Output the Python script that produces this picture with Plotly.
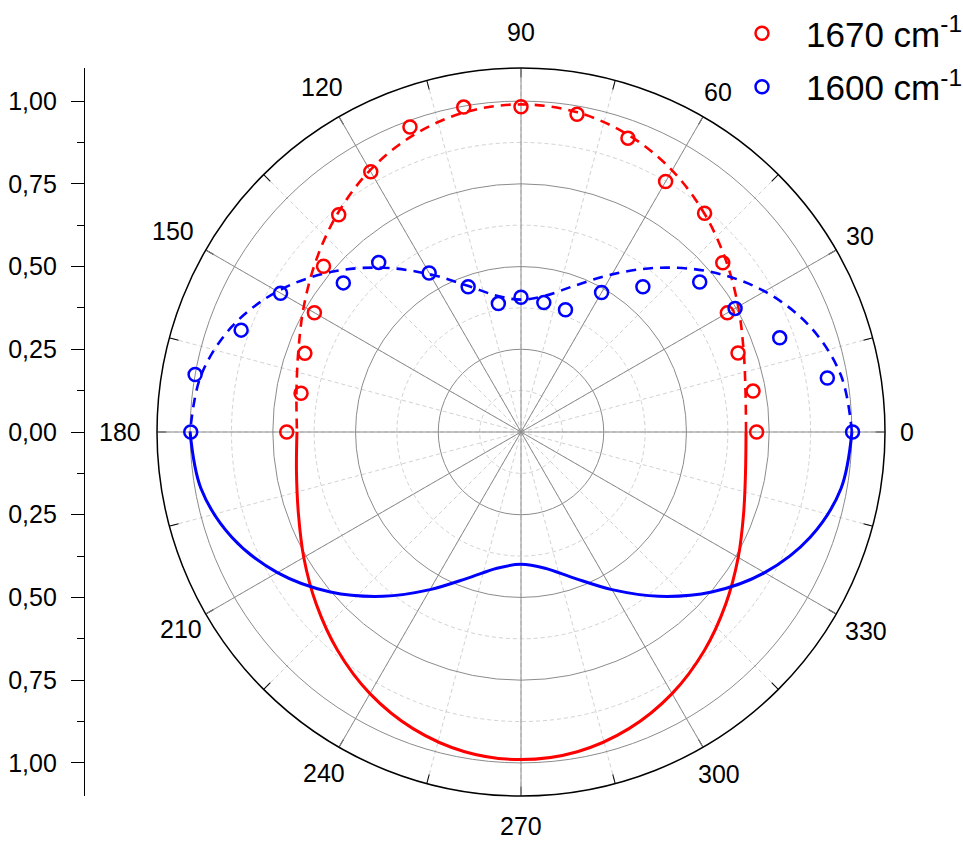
import math
import plotly.graph_objects as go

# ---------------- data ----------------
point_angles = [0, 10, 20, 30, 40, 50, 60, 70, 80, 90, 100, 110, 120, 130, 140, 150, 160, 170, 180]
red_points = [0.712, 0.712, 0.698, 0.720, 0.796, 0.863, 0.874, 0.945, 0.975, 0.983,
              0.997, 0.981, 0.908, 0.857, 0.779, 0.721, 0.695, 0.675, 0.708]
blue_points = [1.002, 0.940, 0.832, 0.747, 0.705, 0.573, 0.487, 0.393, 0.397, 0.407,
               0.394, 0.467, 0.555, 0.669, 0.701, 0.839, 0.900, 1.000, 0.998]

fit_angles = [0, 10, 20, 30, 40, 50, 60, 70, 80, 90, 100, 110, 120, 130, 140, 150, 160, 170, 180]
red_fit = [0.680, 0.689, 0.716, 0.758, 0.808, 0.862, 0.913, 0.954, 0.981, 0.990,
           0.981, 0.954, 0.913, 0.862, 0.808, 0.758, 0.716, 0.689, 0.677]
blue_fit = [1.000, 0.982, 0.930, 0.850, 0.752, 0.648, 0.550, 0.470, 0.418, 0.400,
            0.418, 0.470, 0.550, 0.648, 0.752, 0.850, 0.930, 0.982, 1.000]

series_names = ["1670 cm<sup>-1</sup>", "1600 cm<sup>-1</sup>"]
angle_labels = [0, 30, 60, 90, 120, 150, 180, 210, 240, 270, 300, 330]
minor_angles = list(range(0, 360, 15))
major_radii = [0.25, 0.5, 0.75, 1.0]
minor_radii = [0.125, 0.375, 0.625, 0.875]
left_ticks = [-1.0, -0.75, -0.5, -0.25, 0.0, 0.25, 0.5, 0.75, 1.0]
left_ticktext = ["1,00", "0,75", "0,50", "0,25", "0,00", "0,25", "0,50", "0,75", "1,00"]
left_minor = [-0.875, -0.625, -0.375, -0.125, 0.125, 0.375, 0.625, 0.875]

# layout: distance (px) of each angular label centre from the polar centre
label_dist = [386, 392, 393, 400, 398, 402, 401, 393, 394, 394, 395, 398]

RED = "#ff0000"
BLUE = "#0000ff"
FONT = "Liberation Sans"
W, H = 963, 841

lower_angles = [360 - a for a in fit_angles]

fig = go.Figure()

# dummy traces so the minor-grid polar and the left cartesian axis exist
fig.add_trace(go.Scatterpolar(r=[None], theta=[None], subplot="polar", showlegend=False, hoverinfo="skip"))
fig.add_trace(go.Scatter(x=[None], y=[None], showlegend=False, hoverinfo="skip"))

# fit curves: dashed upper half, solid mirrored lower half
for fit, col in [(red_fit, RED), (blue_fit, BLUE)]:
    fig.add_trace(go.Scatterpolar(r=fit, theta=fit_angles, mode="lines", subplot="polar2",
                                  line=dict(color=col, width=2.6, dash="10px,7px", shape="spline"),
                                  showlegend=False, hoverinfo="skip"))
    fig.add_trace(go.Scatterpolar(r=fit, theta=lower_angles, mode="lines", subplot="polar2",
                                  line=dict(color=col, width=3, shape="spline"),
                                  showlegend=False, hoverinfo="skip"))

# measured points
for i, (pts, col, name) in enumerate([(red_points, RED, series_names[0]),
                                      (blue_points, BLUE, series_names[1])]):
    fig.add_trace(go.Scatterpolar(r=pts, theta=point_angles, mode="markers", subplot="polar2",
                                  name=name, legendgroup="g%d" % i,
                                  marker=dict(symbol="circle-open", size=13, color=col,
                                              line=dict(width=2.5, color=col))))

# polar placement in pixels
cx_px, cy_px, R_px = 521, 432, 364
dom_x = [(cx_px - R_px) / W, (cx_px + R_px) / W]
dom_y = [(H - (cy_px + R_px)) / H, (H - (cy_px - R_px)) / H]

# angular labels placed around the outer ring
annotations = []
for a, d in zip(angle_labels, label_dist):
    px = cx_px + d * math.cos(math.radians(a))
    py = cy_px - d * math.sin(math.radians(a))
    annotations.append(dict(x=px / W, y=1 - py / H, xref="paper", yref="paper",
                            text=str(a), showarrow=False, xanchor="center", yanchor="middle",
                            font=dict(family=FONT, size=25, color="black")))

fig.update_layout(
    width=W, height=H,
    autosize=False,
    margin=dict(l=0, r=0, t=0, b=0, pad=0, autoexpand=False),
    paper_bgcolor="white",
    plot_bgcolor="rgba(0,0,0,0)",
    font=dict(family=FONT, color="black", size=25),
    annotations=annotations,
    polar=dict(
        domain=dict(x=dom_x, y=dom_y),
        bgcolor="white",
        angularaxis=dict(rotation=0, direction="counterclockwise",
                         tickmode="array", tickvals=minor_angles, showticklabels=False,
                         ticks="inside", ticklen=9, tickcolor="black", tickwidth=1,
                         showline=False, showgrid=True, gridcolor="#d2d2d2", gridwidth=1,
                         griddash="4px,3px"),
        radialaxis=dict(range=[0, 1.1], tickmode="array", tickvals=minor_radii,
                        showticklabels=False, ticks="", showline=False,
                        showgrid=True, gridcolor="#d2d2d2", gridwidth=1, griddash="4px,3px"),
    ),
    polar2=dict(
        domain=dict(x=dom_x, y=dom_y),
        bgcolor="rgba(0,0,0,0)",
        angularaxis=dict(rotation=0, direction="counterclockwise",
                         tickmode="array", tickvals=angle_labels, showticklabels=False,
                         ticks="",
                         showline=True, linecolor="black", linewidth=1.5,
                         showgrid=True, gridcolor="#8c8c8c", gridwidth=1),
        radialaxis=dict(range=[0, 1.1], tickmode="array", tickvals=major_radii,
                        showticklabels=False, ticks="", showline=False,
                        showgrid=True, gridcolor="#8c8c8c", gridwidth=1),
    ),
    xaxis=dict(domain=[85 / W, 0.1], visible=False, range=[0, 1]),
    yaxis=dict(domain=dom_y, range=[-1.1, 1.1], anchor="x", side="left",
               tickmode="array", tickvals=left_ticks, ticktext=left_ticktext,
               ticks="outside", ticklen=13, tickcolor="black", tickwidth=1,
               ticklabelstandoff=9,
               showline=True, linecolor="black", linewidth=1.2,
               showgrid=False, zeroline=False,
               tickfont=dict(family=FONT, size=25, color="black"),
               minor=dict(tickmode="array", tickvals=left_minor, ticks="outside",
                          ticklen=7, tickcolor="black", tickwidth=1, showgrid=False)),
    legend=dict(x=718 / W, y=1 - 4 / H, xanchor="left", yanchor="top",
                font=dict(family=FONT, size=35, color="black"),
                itemwidth=78, traceorder="grouped", tracegroupgap=5,
                bgcolor="rgba(0,0,0,0)", borderwidth=0),
    showlegend=True,
)

fig.write_html("out.html", config={"displayModeBar": False},
               post_script="document.body.style.margin='0';")
